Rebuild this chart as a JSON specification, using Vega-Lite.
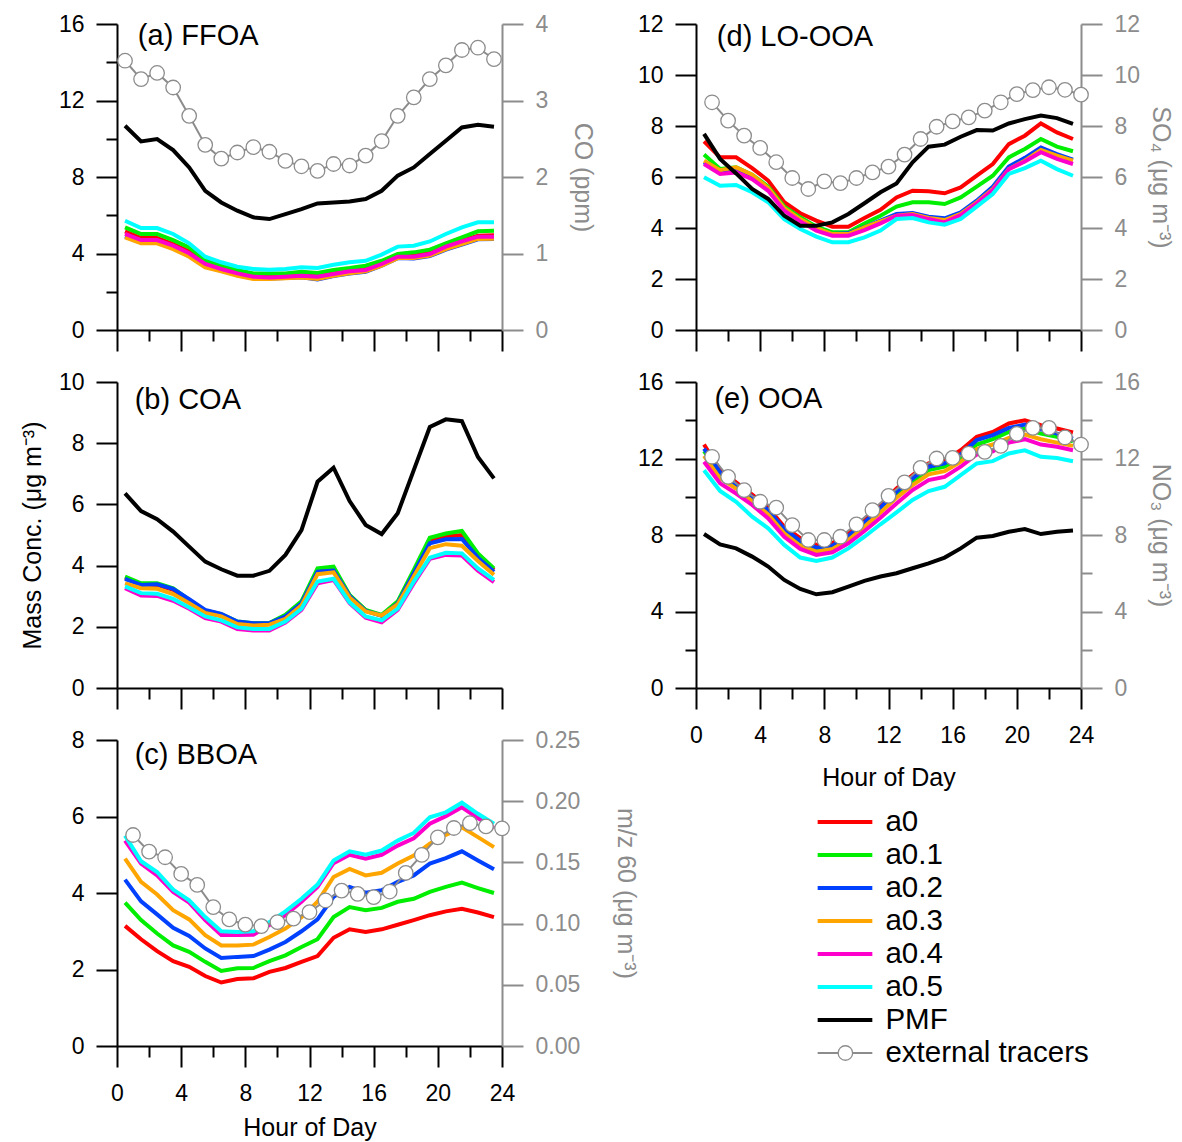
{
"$schema":"https://vega.github.io/schema/vega-lite/v6.json",
"background":"white",
"padding":{"left":20,"top":13,"right":5,"bottom":5},
"config":{"view":{"stroke":null},
"axis":{"grid":false,"domainColor":"black","tickColor":"black","domainWidth":2,"tickWidth":2,"labelColor":"black","titleColor":"black","labelFont":"Liberation Sans","titleFont":"Liberation Sans","labelFontSize":23,"titleFontSize":25,"titleFontWeight":"normal","labelPadding":12,"tickSize":21,"labelFlush":false,"labelOverlap":false},
"text":{"font":"Liberation Sans"}},
"datasets":{
"A":[{"h":0.5,"a0":5.16,"a1":5.37,"a2":4.9,"a3":4.84,"a4":5.02,"a5":5.71,"PMF":10.68},{"h":1.5,"a0":4.81,"a1":5.02,"a2":4.58,"a3":4.53,"a4":4.7,"a5":5.33,"PMF":9.86},{"h":2.5,"a0":4.81,"a1":5.02,"a2":4.58,"a3":4.53,"a4":4.7,"a5":5.33,"PMF":9.98},{"h":3.5,"a0":4.49,"a1":4.7,"a2":4.28,"a3":4.23,"a4":4.41,"a5":5.02,"PMF":9.41},{"h":4.5,"a0":4.11,"a1":4.32,"a2":3.88,"a3":3.83,"a4":4.01,"a5":4.53,"PMF":8.5},{"h":5.5,"a0":3.54,"a1":3.66,"a2":3.32,"a3":3.28,"a4":3.45,"a5":3.83,"PMF":7.28},{"h":6.5,"a0":3.24,"a1":3.36,"a2":3.1,"a3":3.07,"a4":3.19,"a5":3.54,"PMF":6.67},{"h":7.5,"a0":3.05,"a1":3.14,"a2":2.88,"a3":2.84,"a4":2.96,"a5":3.31,"PMF":6.24},{"h":8.5,"a0":2.84,"a1":2.96,"a2":2.7,"a3":2.67,"a4":2.79,"a5":3.19,"PMF":5.89},{"h":9.5,"a0":2.82,"a1":2.96,"a2":2.69,"a3":2.67,"a4":2.75,"a5":3.15,"PMF":5.8},{"h":10.5,"a0":2.86,"a1":2.96,"a2":2.72,"a3":2.7,"a4":2.79,"a5":3.19,"PMF":6.06},{"h":11.5,"a0":2.93,"a1":3.05,"a2":2.76,"a3":2.75,"a4":2.84,"a5":3.28,"PMF":6.32},{"h":12.5,"a0":2.86,"a1":2.98,"a2":2.64,"a3":2.67,"a4":2.79,"a5":3.24,"PMF":6.62},{"h":13.5,"a0":3.01,"a1":3.14,"a2":2.82,"a3":2.84,"a4":2.93,"a5":3.41,"PMF":6.67},{"h":14.5,"a0":3.14,"a1":3.24,"a2":2.95,"a3":2.96,"a4":3.07,"a5":3.54,"PMF":6.72},{"h":15.5,"a0":3.24,"a1":3.36,"a2":3.05,"a3":3.07,"a4":3.14,"a5":3.62,"PMF":6.85},{"h":16.5,"a0":3.54,"a1":3.62,"a2":3.36,"a3":3.36,"a4":3.45,"a5":3.94,"PMF":7.28},{"h":17.5,"a0":3.83,"a1":3.97,"a2":3.76,"a3":3.76,"a4":3.83,"a5":4.36,"PMF":8.07},{"h":18.5,"a0":3.89,"a1":4.06,"a2":3.74,"a3":3.76,"a4":3.83,"a5":4.41,"PMF":8.5},{"h":19.5,"a0":4.06,"a1":4.2,"a2":3.86,"a3":3.89,"a4":3.97,"a5":4.63,"PMF":9.2},{"h":20.5,"a0":4.41,"a1":4.53,"a2":4.2,"a3":4.23,"a4":4.36,"a5":5.02,"PMF":9.9},{"h":21.5,"a0":4.67,"a1":4.84,"a2":4.46,"a3":4.49,"a4":4.63,"a5":5.37,"PMF":10.59},{"h":22.5,"a0":4.93,"a1":5.16,"a2":4.74,"a3":4.76,"a4":4.88,"a5":5.63,"PMF":10.73},{"h":23.5,"a0":4.95,"a1":5.19,"a2":4.76,"a3":4.77,"a4":4.88,"a5":5.64,"PMF":10.63}],
"AT":[{"h":0.5,"v":3.52},{"h":1.5,"v":3.28},{"h":2.5,"v":3.36},{"h":3.5,"v":3.17},{"h":4.5,"v":2.8},{"h":5.5,"v":2.42},{"h":6.5,"v":2.24},{"h":7.5,"v":2.32},{"h":8.5,"v":2.39},{"h":9.5,"v":2.33},{"h":10.5,"v":2.21},{"h":11.5,"v":2.14},{"h":12.5,"v":2.08},{"h":13.5,"v":2.17},{"h":14.5,"v":2.15},{"h":15.5,"v":2.28},{"h":16.5,"v":2.47},{"h":17.5,"v":2.8},{"h":18.5,"v":3.04},{"h":19.5,"v":3.28},{"h":20.5,"v":3.46},{"h":21.5,"v":3.66},{"h":22.5,"v":3.69},{"h":23.5,"v":3.54}],
"B":[{"h":0.5,"a0":3.61,"a1":3.64,"a2":3.57,"a3":3.42,"a4":3.26,"a5":3.32,"PMF":6.36},{"h":1.5,"a0":3.39,"a1":3.42,"a2":3.37,"a3":3.26,"a4":3.02,"a5":3.1,"PMF":5.78},{"h":2.5,"a0":3.37,"a1":3.42,"a2":3.39,"a3":3.24,"a4":3.01,"a5":3.08,"PMF":5.52},{"h":3.5,"a0":3.21,"a1":3.26,"a2":3.24,"a3":3.07,"a4":2.85,"a5":2.91,"PMF":5.11},{"h":4.5,"a0":2.88,"a1":2.88,"a2":2.9,"a3":2.77,"a4":2.59,"a5":2.63,"PMF":4.62},{"h":5.5,"a0":2.52,"a1":2.53,"a2":2.55,"a3":2.45,"a4":2.28,"a5":2.34,"PMF":4.13},{"h":6.5,"a0":2.39,"a1":2.41,"a2":2.42,"a3":2.34,"a4":2.17,"a5":2.21,"PMF":3.88},{"h":7.5,"a0":2.15,"a1":2.17,"a2":2.17,"a3":2.09,"a4":1.93,"a5":1.98,"PMF":3.67},{"h":8.5,"a0":2.1,"a1":2.12,"a2":2.12,"a3":2.04,"a4":1.88,"a5":1.93,"PMF":3.67},{"h":9.5,"a0":2.1,"a1":2.12,"a2":2.12,"a3":2.07,"a4":1.88,"a5":1.93,"PMF":3.83},{"h":10.5,"a0":2.37,"a1":2.39,"a2":2.34,"a3":2.26,"a4":2.14,"a5":2.17,"PMF":4.35},{"h":11.5,"a0":2.8,"a1":2.83,"a2":2.77,"a3":2.7,"a4":2.55,"a5":2.59,"PMF":5.16},{"h":12.5,"a0":3.8,"a1":3.91,"a2":3.8,"a3":3.72,"a4":3.42,"a5":3.48,"PMF":6.74},{"h":13.5,"a0":3.86,"a1":3.97,"a2":3.84,"a3":3.78,"a4":3.53,"a5":3.57,"PMF":7.2},{"h":14.5,"a0":3.02,"a1":3.04,"a2":3.01,"a3":2.96,"a4":2.77,"a5":2.8,"PMF":6.11},{"h":15.5,"a0":2.53,"a1":2.55,"a2":2.52,"a3":2.5,"a4":2.3,"a5":2.34,"PMF":5.33},{"h":16.5,"a0":2.37,"a1":2.39,"a2":2.36,"a3":2.37,"a4":2.15,"a5":2.21,"PMF":5.03},{"h":17.5,"a0":2.8,"a1":2.83,"a2":2.77,"a3":2.74,"a4":2.55,"a5":2.59,"PMF":5.71},{"h":18.5,"a0":3.78,"a1":3.86,"a2":3.75,"a3":3.64,"a4":3.42,"a5":3.48,"PMF":7.12},{"h":19.5,"a0":4.8,"a1":4.91,"a2":4.73,"a3":4.57,"a4":4.22,"a5":4.26,"PMF":8.53},{"h":20.5,"a0":4.95,"a1":5.05,"a2":4.86,"a3":4.7,"a4":4.35,"a5":4.42,"PMF":8.78},{"h":21.5,"a0":5.0,"a1":5.13,"a2":4.87,"a3":4.65,"a4":4.33,"a5":4.4,"PMF":8.72},{"h":22.5,"a0":4.33,"a1":4.4,"a2":4.26,"a3":4.15,"a4":3.83,"a5":3.91,"PMF":7.55},{"h":23.5,"a0":3.86,"a1":3.91,"a2":3.8,"a3":3.7,"a4":3.46,"a5":3.53,"PMF":6.85}],
"C":[{"h":0.5,"a0":3.14,"a1":3.75,"a2":4.35,"a3":4.9,"a4":5.37,"a5":5.5},{"h":1.5,"a0":2.79,"a1":3.29,"a2":3.78,"a3":4.29,"a4":4.77,"a5":4.83},{"h":2.5,"a0":2.48,"a1":2.94,"a2":3.44,"a3":3.96,"a4":4.46,"a5":4.55},{"h":3.5,"a0":2.22,"a1":2.63,"a2":3.09,"a3":3.55,"a4":4.03,"a5":4.09},{"h":4.5,"a0":2.07,"a1":2.46,"a2":2.88,"a3":3.31,"a4":3.75,"a5":3.81},{"h":5.5,"a0":1.83,"a1":2.2,"a2":2.55,"a3":2.9,"a4":3.29,"a5":3.37},{"h":6.5,"a0":1.66,"a1":1.96,"a2":2.3,"a3":2.63,"a4":2.9,"a5":3.0},{"h":7.5,"a0":1.75,"a1":2.03,"a2":2.33,"a3":2.63,"a4":2.9,"a5":2.98},{"h":8.5,"a0":1.77,"a1":2.04,"a2":2.35,"a3":2.65,"a4":2.91,"a5":3.0},{"h":9.5,"a0":1.94,"a1":2.22,"a2":2.52,"a3":2.85,"a4":3.16,"a5":3.24},{"h":10.5,"a0":2.04,"a1":2.37,"a2":2.72,"a3":3.07,"a4":3.42,"a5":3.52},{"h":11.5,"a0":2.2,"a1":2.59,"a2":3.0,"a3":3.37,"a4":3.77,"a5":3.85},{"h":12.5,"a0":2.35,"a1":2.79,"a2":3.31,"a3":3.77,"a4":4.16,"a5":4.22},{"h":13.5,"a0":2.83,"a1":3.37,"a2":3.9,"a3":4.42,"a4":4.78,"a5":4.85},{"h":14.5,"a0":3.05,"a1":3.63,"a2":4.16,"a3":4.63,"a4":5.0,"a5":5.09},{"h":15.5,"a0":2.98,"a1":3.55,"a2":4.01,"a3":4.46,"a4":4.9,"a5":5.0},{"h":16.5,"a0":3.05,"a1":3.61,"a2":4.07,"a3":4.53,"a4":5.0,"a5":5.11},{"h":17.5,"a0":3.17,"a1":3.77,"a2":4.29,"a3":4.77,"a4":5.24,"a5":5.37},{"h":18.5,"a0":3.29,"a1":3.85,"a2":4.46,"a3":4.98,"a4":5.43,"a5":5.57},{"h":19.5,"a0":3.42,"a1":4.03,"a2":4.77,"a3":5.29,"a4":5.81,"a5":5.98},{"h":20.5,"a0":3.52,"a1":4.16,"a2":4.91,"a3":5.52,"a4":6.01,"a5":6.11},{"h":21.5,"a0":3.59,"a1":4.27,"a2":5.09,"a3":5.72,"a4":6.24,"a5":6.36},{"h":22.5,"a0":3.49,"a1":4.13,"a2":4.85,"a3":5.46,"a4":5.96,"a5":6.07},{"h":23.5,"a0":3.37,"a1":4.0,"a2":4.62,"a3":5.2,"a4":5.7,"a5":5.81}],
"CT":[{"h":1,"v":0.1724},{"h":2,"v":0.1588},{"h":3,"v":0.1542},{"h":4,"v":0.1406},{"h":5,"v":0.1316},{"h":6,"v":0.1135},{"h":7,"v":0.1034},{"h":8,"v":0.0991},{"h":9,"v":0.098},{"h":10,"v":0.1012},{"h":11,"v":0.104},{"h":12,"v":0.1094},{"h":13,"v":0.1189},{"h":14,"v":0.127},{"h":15,"v":0.1243},{"h":16,"v":0.1216},{"h":17,"v":0.1262},{"h":18,"v":0.1414},{"h":19,"v":0.1561},{"h":20,"v":0.1705},{"h":21,"v":0.1781},{"h":22,"v":0.1821},{"h":23,"v":0.1794},{"h":24,"v":0.1778}],
"D":[{"h":0.5,"a0":7.4,"a1":6.88,"a2":6.58,"a3":6.64,"a4":6.51,"a5":5.99,"PMF":7.69},{"h":1.5,"a0":6.77,"a1":6.31,"a2":6.18,"a3":6.27,"a4":6.12,"a5":5.66,"PMF":6.71},{"h":2.5,"a0":6.77,"a1":6.38,"a2":6.25,"a3":6.38,"a4":6.18,"a5":5.69,"PMF":6.14},{"h":3.5,"a0":6.35,"a1":6.09,"a2":5.99,"a3":6.09,"a4":5.92,"a5":5.4,"PMF":5.53},{"h":4.5,"a0":5.86,"a1":5.62,"a2":5.53,"a3":5.57,"a4":5.46,"a5":5.01,"PMF":5.14},{"h":5.5,"a0":5.01,"a1":4.84,"a2":4.75,"a3":4.78,"a4":4.68,"a5":4.35,"PMF":4.48},{"h":6.5,"a0":4.58,"a1":4.42,"a2":4.31,"a3":4.35,"a4":4.26,"a5":3.96,"PMF":4.09},{"h":7.5,"a0":4.29,"a1":4.05,"a2":3.96,"a3":4.0,"a4":3.9,"a5":3.66,"PMF":4.09},{"h":8.5,"a0":4.05,"a1":3.83,"a2":3.76,"a3":3.76,"a4":3.7,"a5":3.44,"PMF":4.22},{"h":9.5,"a0":4.05,"a1":3.83,"a2":3.79,"a3":3.76,"a4":3.7,"a5":3.44,"PMF":4.55},{"h":10.5,"a0":4.39,"a1":4.18,"a2":4.03,"a3":4.03,"a4":3.92,"a5":3.63,"PMF":4.97},{"h":11.5,"a0":4.71,"a1":4.48,"a2":4.29,"a3":4.26,"a4":4.18,"a5":3.9,"PMF":5.4},{"h":12.5,"a0":5.2,"a1":4.84,"a2":4.55,"a3":4.48,"a4":4.48,"a5":4.35,"PMF":5.75},{"h":13.5,"a0":5.46,"a1":5.01,"a2":4.59,"a3":4.55,"a4":4.51,"a5":4.39,"PMF":6.58},{"h":14.5,"a0":5.44,"a1":5.01,"a2":4.44,"a3":4.39,"a4":4.35,"a5":4.22,"PMF":7.19},{"h":15.5,"a0":5.36,"a1":4.94,"a2":4.38,"a3":4.31,"a4":4.22,"a5":4.13,"PMF":7.27},{"h":16.5,"a0":5.59,"a1":5.2,"a2":4.61,"a3":4.55,"a4":4.51,"a5":4.35,"PMF":7.58},{"h":17.5,"a0":6.05,"a1":5.62,"a2":5.07,"a3":5.01,"a4":4.97,"a5":4.84,"PMF":7.84},{"h":18.5,"a0":6.51,"a1":6.05,"a2":5.62,"a3":5.53,"a4":5.49,"a5":5.33,"PMF":7.82},{"h":19.5,"a0":7.29,"a1":6.77,"a2":6.41,"a3":6.31,"a4":6.31,"a5":6.12,"PMF":8.1},{"h":20.5,"a0":7.62,"a1":7.1,"a2":6.75,"a3":6.64,"a4":6.61,"a5":6.35,"PMF":8.27},{"h":21.5,"a0":8.1,"a1":7.49,"a2":7.16,"a3":7.06,"a4":6.97,"a5":6.64,"PMF":8.41},{"h":22.5,"a0":7.75,"a1":7.19,"a2":6.9,"a3":6.84,"a4":6.71,"a5":6.31,"PMF":8.31},{"h":23.5,"a0":7.49,"a1":7.01,"a2":6.68,"a3":6.64,"a4":6.51,"a5":6.05,"PMF":8.08}],
"DT":[{"h":1,"v":8.93},{"h":2,"v":8.21},{"h":3,"v":7.62},{"h":4,"v":7.14},{"h":5,"v":6.58},{"h":6,"v":5.96},{"h":7,"v":5.53},{"h":8,"v":5.83},{"h":9,"v":5.76},{"h":10,"v":5.96},{"h":11,"v":6.18},{"h":12,"v":6.41},{"h":13,"v":6.88},{"h":14,"v":7.49},{"h":15,"v":7.97},{"h":16,"v":8.18},{"h":17,"v":8.34},{"h":18,"v":8.6},{"h":19,"v":8.93},{"h":20,"v":9.25},{"h":21,"v":9.41},{"h":22,"v":9.52},{"h":23,"v":9.42},{"h":24,"v":9.23}],
"E":[{"h":0.5,"a0":12.73,"a1":12.38,"a2":12.52,"a3":12.14,"a4":11.83,"a5":11.39,"PMF":8.05},{"h":1.5,"a0":11.39,"a1":11.17,"a2":11.27,"a3":10.96,"a4":10.7,"a5":10.3,"PMF":7.51},{"h":2.5,"a0":10.75,"a1":10.57,"a2":10.64,"a3":10.43,"a4":10.17,"a5":9.74,"PMF":7.3},{"h":3.5,"a0":10.12,"a1":9.91,"a2":10.0,"a3":9.77,"a4":9.57,"a5":8.96,"PMF":6.87},{"h":4.5,"a0":9.43,"a1":9.22,"a2":9.3,"a3":9.08,"a4":8.87,"a5":8.35,"PMF":6.35},{"h":5.5,"a0":8.43,"a1":8.21,"a2":8.31,"a3":8.09,"a4":7.91,"a5":7.48,"PMF":5.65},{"h":6.5,"a0":7.83,"a1":7.62,"a2":7.69,"a3":7.44,"a4":7.27,"a5":6.82,"PMF":5.18},{"h":7.5,"a0":7.48,"a1":7.27,"a2":7.34,"a3":7.13,"a4":6.96,"a5":6.64,"PMF":4.9},{"h":8.5,"a0":7.57,"a1":7.36,"a2":7.44,"a3":7.27,"a4":7.1,"a5":6.82,"PMF":5.01},{"h":9.5,"a0":8.09,"a1":7.86,"a2":7.95,"a3":7.74,"a4":7.57,"a5":7.3,"PMF":5.3},{"h":10.5,"a0":8.78,"a1":8.56,"a2":8.66,"a3":8.43,"a4":8.21,"a5":7.91,"PMF":5.6},{"h":11.5,"a0":9.57,"a1":9.3,"a2":9.43,"a3":9.18,"a4":8.9,"a5":8.56,"PMF":5.83},{"h":12.5,"a0":10.43,"a1":10.12,"a2":10.26,"a3":9.95,"a4":9.65,"a5":9.18,"PMF":6.0},{"h":13.5,"a0":11.13,"a1":10.82,"a2":10.96,"a3":10.61,"a4":10.35,"a5":9.83,"PMF":6.26},{"h":14.5,"a0":11.74,"a1":11.39,"a2":11.57,"a3":11.17,"a4":10.87,"a5":10.3,"PMF":6.52},{"h":15.5,"a0":11.91,"a1":11.57,"a2":11.74,"a3":11.34,"a4":11.04,"a5":10.52,"PMF":6.82},{"h":16.5,"a0":12.43,"a1":12.03,"a2":12.21,"a3":11.83,"a4":11.57,"a5":11.13,"PMF":7.3},{"h":17.5,"a0":13.13,"a1":12.73,"a2":12.96,"a3":12.49,"a4":12.21,"a5":11.74,"PMF":7.86},{"h":18.5,"a0":13.39,"a1":13.01,"a2":13.22,"a3":12.73,"a4":12.38,"a5":11.86,"PMF":7.95},{"h":19.5,"a0":13.83,"a1":13.39,"a2":13.6,"a3":13.08,"a4":12.83,"a5":12.26,"PMF":8.17},{"h":20.5,"a0":14.0,"a1":13.57,"a2":13.77,"a3":13.25,"a4":13.01,"a5":12.43,"PMF":8.31},{"h":21.5,"a0":13.74,"a1":13.3,"a2":13.53,"a3":13.01,"a4":12.73,"a5":12.09,"PMF":8.05},{"h":22.5,"a0":13.57,"a1":13.13,"a2":13.3,"a3":12.83,"a4":12.61,"a5":12.03,"PMF":8.17},{"h":23.5,"a0":13.36,"a1":12.9,"a2":13.04,"a3":12.66,"a4":12.43,"a5":11.86,"PMF":8.23}],
"ET":[{"h":1,"v":12.09},{"h":2,"v":11.04},{"h":3,"v":10.35},{"h":4,"v":9.74},{"h":5,"v":9.43},{"h":6,"v":8.52},{"h":7,"v":7.74},{"h":8,"v":7.74},{"h":9,"v":7.91},{"h":10,"v":8.56},{"h":11,"v":9.3},{"h":12,"v":10.05},{"h":13,"v":10.75},{"h":14,"v":11.51},{"h":15,"v":12.0},{"h":16,"v":12.03},{"h":17,"v":12.26},{"h":18,"v":12.35},{"h":19,"v":12.66},{"h":20,"v":13.29},{"h":21,"v":13.6},{"h":22,"v":13.6},{"h":23,"v":13.1},{"h":24,"v":12.73}],
"LEG":[{"s":"a0"},{"s":"a0.1"},{"s":"a0.2"},{"s":"a0.3"},{"s":"a0.4"},{"s":"a0.5"},{"s":"PMF"},{"s":"external tracers"}]
},
"columns":2,
"bounds":"flush",
"spacing":{"row":52,"column":194},
"concat":[
{"width":385,"height":306,"resolve":{"scale":{"x":"independent","y":"independent"}},"layer":[
 {"data":{"name":"A"},"transform":[{"fold":["a0","a1","a2","a3","a4","a5","PMF"],"as":["s","v"]}],"mark":{"type":"line","strokeWidth":4},
  "encoding":{"x":{"field":"h","type":"quantitative","scale":{"domain":[0,24],"nice":false,"zero":false},"axis":{"values":[0,2,4,6,8,10,12,14,16,18,20,22,24],"labels":false,"title":null,"tickSize":{"condition":{"test":"datum.value % 4 === 0","value":21},"value":11}}},
  "y":{"field":"v","type":"quantitative","scale":{"domain":[0,16],"nice":false},"axis":{"values":[0,2,4,6,8,10,12,14,16],"labelExpr":"datum.value % 4 === 0 ? datum.label : ''","title":null,"tickSize":{"condition":{"test":"datum.value % 4 === 0","value":21},"value":11}}},
  "color":{"field":"s","type":"nominal","scale":{"domain":["a0","a1","a2","a3","a4","a5","PMF"],"range":["#ff0000","#00ee00","#0040ff","#ffa500","#ff00cc","#00ffff","#000000"]},"legend":null}}},
 {"data":{"values":[{}]},"mark":{"type":"text","align":"left","baseline":"middle","fontSize":29,"color":"black"},
  "encoding":{"x":{"datum":1.3,"type":"quantitative","scale":{"domain":[0,24],"nice":false,"zero":false},"axis":null},"y":{"datum":15.35,"type":"quantitative","scale":{"domain":[0,16],"nice":false},"axis":null},"text":{"value":"(a) FFOA"}}},
 {"data":{"name":"AT"},"encoding":{"x":{"field":"h","type":"quantitative","scale":{"domain":[0,24],"nice":false,"zero":false},"axis":null},"y":{"field":"v","type":"quantitative","scale":{"domain":[0,4],"nice":false},"axis":{"orient":"right","values":[0,1,2,3,4],"title":"CO (ppm)","titlePadding":22,"domainColor":"#8c8c8c","tickColor":"#8c8c8c","labelColor":"#8c8c8c","titleColor":"#8c8c8c"}}},
  "layer":[{"mark":{"type":"line","color":"#8c8c8c","strokeWidth":2}},{"mark":{"type":"point","shape":"circle","filled":true,"fill":"white","stroke":"#8c8c8c","strokeWidth":1.3,"size":210,"opacity":1}}]}
]},
{"width":385,"height":306,"resolve":{"scale":{"x":"independent","y":"independent"}},"layer":[
 {"data":{"name":"D"},"transform":[{"fold":["a0","a1","a2","a3","a4","a5","PMF"],"as":["s","v"]}],"mark":{"type":"line","strokeWidth":4},
  "encoding":{"x":{"field":"h","type":"quantitative","scale":{"domain":[0,24],"nice":false,"zero":false},"axis":{"values":[0,2,4,6,8,10,12,14,16,18,20,22,24],"labels":false,"title":null,"tickSize":{"condition":{"test":"datum.value % 4 === 0","value":21},"value":11}}},
  "y":{"field":"v","type":"quantitative","scale":{"domain":[0,12],"nice":false},"axis":{"values":[0,2,4,6,8,10,12],"title":null}},
  "color":{"field":"s","type":"nominal","scale":{"domain":["a0","a1","a2","a3","a4","a5","PMF"],"range":["#ff0000","#00ee00","#0040ff","#ffa500","#ff00cc","#00ffff","#000000"]},"legend":null}}},
 {"data":{"values":[{}]},"mark":{"type":"text","align":"left","baseline":"middle","fontSize":29,"color":"black"},
  "encoding":{"x":{"datum":1.3,"type":"quantitative","scale":{"domain":[0,24],"nice":false,"zero":false},"axis":null},"y":{"datum":11.48,"type":"quantitative","scale":{"domain":[0,12],"nice":false},"axis":null},"text":{"value":"(d) LO-OOA"}}},
 {"data":{"name":"DT"},"encoding":{"x":{"field":"h","type":"quantitative","scale":{"domain":[0,24],"nice":false,"zero":false},"axis":null},"y":{"field":"v","type":"quantitative","scale":{"domain":[0,12],"nice":false},"axis":{"orient":"right","values":[0,2,4,6,8,10,12],"title":"SO₄ (μg m⁻³)","titlePadding":8,"domainColor":"#8c8c8c","tickColor":"#8c8c8c","labelColor":"#8c8c8c","titleColor":"#8c8c8c"}}},
  "layer":[{"mark":{"type":"line","color":"#8c8c8c","strokeWidth":2}},{"mark":{"type":"point","shape":"circle","filled":true,"fill":"white","stroke":"#8c8c8c","strokeWidth":1.3,"size":210,"opacity":1}}]}
]},
{"width":385,"height":306,"resolve":{"scale":{"x":"independent","y":"independent"}},"layer":[
 {"data":{"name":"B"},"transform":[{"fold":["a0","a1","a2","a3","a4","a5","PMF"],"as":["s","v"]}],"mark":{"type":"line","strokeWidth":4},
  "encoding":{"x":{"field":"h","type":"quantitative","scale":{"domain":[0,24],"nice":false,"zero":false},"axis":{"values":[0,2,4,6,8,10,12,14,16,18,20,22,24],"labels":false,"title":null,"tickSize":{"condition":{"test":"datum.value % 4 === 0","value":21},"value":11}}},
  "y":{"field":"v","type":"quantitative","scale":{"domain":[0,10],"nice":false},"axis":{"values":[0,2,4,6,8,10],"title":"Mass Conc. (μg m⁻³)","titlePadding":13}},
  "color":{"field":"s","type":"nominal","scale":{"domain":["a0","a1","a2","a3","a4","a5","PMF"],"range":["#ff0000","#00ee00","#0040ff","#ffa500","#ff00cc","#00ffff","#000000"]},"legend":null}}},
 {"data":{"values":[{}]},"mark":{"type":"text","align":"left","baseline":"middle","fontSize":29,"color":"black"},
  "encoding":{"x":{"datum":1.1,"type":"quantitative","scale":{"domain":[0,24],"nice":false,"zero":false},"axis":null},"y":{"datum":9.42,"type":"quantitative","scale":{"domain":[0,10],"nice":false},"axis":null},"text":{"value":"(b) COA"}}}
]},
{"width":385,"height":306,"resolve":{"scale":{"x":"independent","y":"independent"}},"layer":[
 {"data":{"name":"E"},"transform":[{"fold":["a0","a1","a2","a3","a4","a5","PMF"],"as":["s","v"]}],"mark":{"type":"line","strokeWidth":4},
  "encoding":{"x":{"field":"h","type":"quantitative","scale":{"domain":[0,24],"nice":false,"zero":false},"axis":{"values":[0,2,4,6,8,10,12,14,16,18,20,22,24],"labelExpr":"datum.value % 4 === 0 ? datum.label : ''","labelPadding":15,"title":"Hour of Day","titlePadding":18,"tickSize":{"condition":{"test":"datum.value % 4 === 0","value":21},"value":11}}},
  "y":{"field":"v","type":"quantitative","scale":{"domain":[0,16],"nice":false},"axis":{"values":[0,2,4,6,8,10,12,14,16],"labelExpr":"datum.value % 4 === 0 ? datum.label : ''","title":null,"tickSize":{"condition":{"test":"datum.value % 4 === 0","value":21},"value":11}}},
  "color":{"field":"s","type":"nominal","scale":{"domain":["a0","a1","a2","a3","a4","a5","PMF"],"range":["#ff0000","#00ee00","#0040ff","#ffa500","#ff00cc","#00ffff","#000000"]},"legend":null}}},
 {"data":{"values":[{}]},"mark":{"type":"text","align":"left","baseline":"middle","fontSize":29,"color":"black"},
  "encoding":{"x":{"datum":1.15,"type":"quantitative","scale":{"domain":[0,24],"nice":false,"zero":false},"axis":null},"y":{"datum":15.09,"type":"quantitative","scale":{"domain":[0,16],"nice":false},"axis":null},"text":{"value":"(e) OOA"}}},
 {"data":{"name":"ET"},"encoding":{"x":{"field":"h","type":"quantitative","scale":{"domain":[0,24],"nice":false,"zero":false},"axis":null},"y":{"field":"v","type":"quantitative","scale":{"domain":[0,16],"nice":false},"axis":{"orient":"right","values":[0,2,4,6,8,10,12,14,16],"labelExpr":"datum.value % 4 === 0 ? datum.label : ''","tickSize":{"condition":{"test":"datum.value % 4 === 0","value":21},"value":11},"title":"NO₃ (μg m⁻³)","titlePadding":8,"domainColor":"#8c8c8c","tickColor":"#8c8c8c","labelColor":"#8c8c8c","titleColor":"#8c8c8c"}}},
  "layer":[{"mark":{"type":"line","color":"#8c8c8c","strokeWidth":2}},{"mark":{"type":"point","shape":"circle","filled":true,"fill":"white","stroke":"#8c8c8c","strokeWidth":1.3,"size":210,"opacity":1}}]}
]},
{"width":385,"height":306,"resolve":{"scale":{"x":"independent","y":"independent"}},"layer":[
 {"data":{"name":"C"},"transform":[{"fold":["a0","a1","a2","a3","a4","a5"],"as":["s","v"]}],"mark":{"type":"line","strokeWidth":4},
  "encoding":{"x":{"field":"h","type":"quantitative","scale":{"domain":[0,24],"nice":false,"zero":false},"axis":{"values":[0,2,4,6,8,10,12,14,16,18,20,22,24],"labelExpr":"datum.value % 4 === 0 ? datum.label : ''","labelPadding":15,"title":"Hour of Day","titlePadding":10,"tickSize":{"condition":{"test":"datum.value % 4 === 0","value":21},"value":11}}},
  "y":{"field":"v","type":"quantitative","scale":{"domain":[0,8],"nice":false},"axis":{"values":[0,2,4,6,8],"title":null}},
  "color":{"field":"s","type":"nominal","scale":{"domain":["a0","a1","a2","a3","a4","a5","PMF"],"range":["#ff0000","#00ee00","#0040ff","#ffa500","#ff00cc","#00ffff","#000000"]},"legend":null}}},
 {"data":{"values":[{}]},"mark":{"type":"text","align":"left","baseline":"middle","fontSize":29,"color":"black"},
  "encoding":{"x":{"datum":1.1,"type":"quantitative","scale":{"domain":[0,24],"nice":false,"zero":false},"axis":null},"y":{"datum":7.61,"type":"quantitative","scale":{"domain":[0,8],"nice":false},"axis":null},"text":{"value":"(c) BBOA"}}},
 {"data":{"name":"CT"},"encoding":{"x":{"field":"h","type":"quantitative","scale":{"domain":[0,24],"nice":false,"zero":false},"axis":null},"y":{"field":"v","type":"quantitative","scale":{"domain":[0,0.25],"nice":false},"axis":{"orient":"right","values":[0,0.05,0.1,0.15,0.2,0.25],"format":".2f","title":"m/z 60 (μg m⁻³)","titlePadding":33,"domainColor":"#8c8c8c","tickColor":"#8c8c8c","labelColor":"#8c8c8c","titleColor":"#8c8c8c"}}},
  "layer":[{"mark":{"type":"line","color":"#8c8c8c","strokeWidth":2}},{"mark":{"type":"point","shape":"circle","filled":true,"fill":"white","stroke":"#8c8c8c","strokeWidth":1.3,"size":210,"opacity":1}}]}
]},
{"width":385,"height":393,"data":{"name":"LEG"},
 "encoding":{"y":{"field":"s","type":"nominal","sort":null,"scale":{"type":"point","domain":["a0","a0.1","a0.2","a0.3","a0.4","a0.5","PMF","external tracers"],"range":[82,313],"padding":0},"axis":null}},
 "layer":[
  {"transform":[{"filter":"datum.s != 'external tracers'"}],"mark":{"type":"rule","strokeWidth":4},"encoding":{"x":{"datum":3.16,"type":"quantitative","scale":{"domain":[0,10],"nice":false,"zero":false},"axis":null},"x2":{"datum":4.58},"stroke":{"field":"s","type":"nominal","scale":{"domain":["a0","a0.1","a0.2","a0.3","a0.4","a0.5","PMF"],"range":["#ff0000","#00ee00","#0040ff","#ffa500","#ff00cc","#00ffff","#000000"]},"legend":null}}},
  {"transform":[{"filter":"datum.s == 'external tracers'"}],"mark":{"type":"rule","strokeWidth":2,"color":"#8c8c8c"},"encoding":{"x":{"datum":3.16,"type":"quantitative","scale":{"domain":[0,10],"nice":false,"zero":false},"axis":null},"x2":{"datum":4.58}}},
  {"transform":[{"filter":"datum.s == 'external tracers'"}],"mark":{"type":"point","shape":"circle","filled":true,"fill":"white","stroke":"#8c8c8c","strokeWidth":1.3,"size":210,"opacity":1},"encoding":{"x":{"datum":3.88,"type":"quantitative","scale":{"domain":[0,10],"nice":false,"zero":false},"axis":null}}},
  {"mark":{"type":"text","align":"left","baseline":"middle","fontSize":29.5,"color":"black"},"encoding":{"x":{"datum":4.92,"type":"quantitative","scale":{"domain":[0,10],"nice":false,"zero":false},"axis":null},"text":{"field":"s"}}}
 ]}
]
}
